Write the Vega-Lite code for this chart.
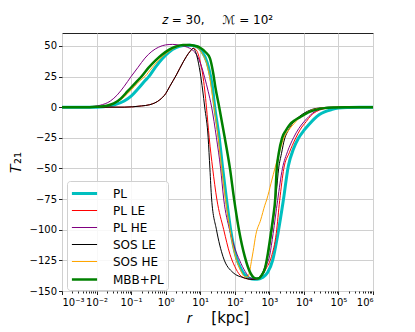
{
  "$schema": "https://vega.github.io/schema/vega-lite/v6.json",
  "width": 311,
  "height": 258,
  "autosize": "none",
  "padding": {"left": 62, "top": 33, "right": 42, "bottom": 41},
  "background": "white",
  "title": {"text": "𝑧 = 30,\u2003\u2002ℳ = 10²", "fontSize": 12, "fontWeight": "normal", "font": "DejaVu Sans", "offset": 6, "color": "black"},
  "config": {
    "view": {"stroke": "#222", "strokeWidth": 1},
    "axis": {"gridColor": "#d0d0d0", "gridWidth": 1, "domain": false, "tickColor": "#222", "tickSize": 3.5, "labelFont": "DejaVu Sans", "labelFontSize": 10, "labelColor": "black", "titleFont": "DejaVu Sans", "titleFontWeight": "normal", "titleColor": "black"},
    "legend": {"title": null, "orient": "none", "legendX": 5, "legendY": 148, "symbolType": "M-1.8,0H1.8", "symbolSize": 196, "symbolOffset": 5, "labelFontSize": 12, "labelFont": "DejaVu Sans", "labelColor": "black", "fillColor": "rgba(255,255,255,0.85)", "strokeColor": "#d0d0d0", "cornerRadius": 3, "padding": 4, "rowPadding": 3, "labelOffset": 20}
  },
  "data": {"values": [
    {"s":"PL","r":0.001,"T":0},{"s":"PL","r":0.01,"T":0},{"s":"PL","r":0.01585,"T":0.3},{"s":"PL","r":0.03162,"T":1.8},{"s":"PL","r":0.0631,"T":5},{"s":"PL","r":0.1,"T":9},{"s":"PL","r":0.1585,"T":15},{"s":"PL","r":0.2512,"T":21.5},{"s":"PL","r":0.3162,"T":24.5},{"s":"PL","r":0.5012,"T":32.5},{"s":"PL","r":0.7943,"T":39.5},{"s":"PL","r":1.259,"T":45},{"s":"PL","r":1.995,"T":48.5},{"s":"PL","r":3.162,"T":50.2},{"s":"PL","r":5.012,"T":50.6},{"s":"PL","r":7.943,"T":49.3},{"s":"PL","r":11.22,"T":45.5},{"s":"PL","r":15.85,"T":36.5},{"s":"PL","r":19.95,"T":25},{"s":"PL","r":22.39,"T":17},{"s":"PL","r":26.3,"T":0},{"s":"PL","r":35.48,"T":-25},{"s":"PL","r":44.67,"T":-50},{"s":"PL","r":57.54,"T":-75},{"s":"PL","r":75.86,"T":-100},{"s":"PL","r":112.2,"T":-123},{"s":"PL","r":158.5,"T":-133},{"s":"PL","r":223.9,"T":-138.5},{"s":"PL","r":316.2,"T":-140.3},{"s":"PL","r":446.7,"T":-140.5},{"s":"PL","r":631,"T":-139},{"s":"PL","r":891.3,"T":-135},{"s":"PL","r":1259,"T":-124.5},{"s":"PL","r":1778,"T":-103},{"s":"PL","r":2512,"T":-77},{"s":"PL","r":3548,"T":-48},{"s":"PL","r":5012,"T":-34},{"s":"PL","r":7079,"T":-25},{"s":"PL","r":10000,"T":-19},{"s":"PL","r":14130,"T":-14},{"s":"PL","r":19950,"T":-9.5},{"s":"PL","r":28180,"T":-6},{"s":"PL","r":39810,"T":-3.8},{"s":"PL","r":63100,"T":-2},{"s":"PL","r":100000,"T":-0.8},{"s":"PL","r":199500,"T":-0.2},{"s":"PL","r":398100,"T":0},{"s":"PL","r":1000000,"T":0},

    {"s":"PL LE","r":0.001,"T":0},{"s":"PL LE","r":0.0631,"T":0},{"s":"PL LE","r":0.1122,"T":0.3},{"s":"PL LE","r":0.1995,"T":1},{"s":"PL LE","r":0.3467,"T":2},{"s":"PL LE","r":0.6761,"T":6},{"s":"PL LE","r":1,"T":11},{"s":"PL LE","r":1.318,"T":17},{"s":"PL LE","r":2.042,"T":26.3},{"s":"PL LE","r":3.236,"T":37},{"s":"PL LE","r":5.012,"T":45.3},{"s":"PL LE","r":6.31,"T":48},{"s":"PL LE","r":7.943,"T":46},{"s":"PL LE","r":10,"T":37},{"s":"PL LE","r":11.75,"T":27},{"s":"PL LE","r":13.49,"T":14},{"s":"PL LE","r":15.14,"T":0},{"s":"PL LE","r":18.2,"T":-25},{"s":"PL LE","r":22.91,"T":-50},{"s":"PL LE","r":30.2,"T":-75},{"s":"PL LE","r":47.86,"T":-100},{"s":"PL LE","r":72.44,"T":-120},{"s":"PL LE","r":100,"T":-130},{"s":"PL LE","r":141.3,"T":-137},{"s":"PL LE","r":223.9,"T":-140},{"s":"PL LE","r":354.8,"T":-140.5},{"s":"PL LE","r":562.3,"T":-138.5},{"s":"PL LE","r":794.3,"T":-132},{"s":"PL LE","r":1148,"T":-122},{"s":"PL LE","r":1585,"T":-103},{"s":"PL LE","r":1995,"T":-76},{"s":"PL LE","r":2630,"T":-50},{"s":"PL LE","r":3802,"T":-37},{"s":"PL LE","r":5623,"T":-26},{"s":"PL LE","r":7943,"T":-18},{"s":"PL LE","r":11750,"T":-11.7},{"s":"PL LE","r":15850,"T":-7},{"s":"PL LE","r":22910,"T":-3.6},{"s":"PL LE","r":35480,"T":-1.5},{"s":"PL LE","r":63100,"T":-0.3},{"s":"PL LE","r":158500,"T":0},{"s":"PL LE","r":1000000,"T":0},

    {"s":"PL HE","r":0.001,"T":0},{"s":"PL HE","r":0.003981,"T":0},{"s":"PL HE","r":0.00631,"T":0.3},{"s":"PL HE","r":0.01259,"T":1.5},{"s":"PL HE","r":0.02512,"T":5},{"s":"PL HE","r":0.03981,"T":10},{"s":"PL HE","r":0.0631,"T":17},{"s":"PL HE","r":0.1,"T":25},{"s":"PL HE","r":0.1585,"T":32.5},{"s":"PL HE","r":0.2512,"T":40},{"s":"PL HE","r":0.3981,"T":45.5},{"s":"PL HE","r":0.631,"T":49},{"s":"PL HE","r":1,"T":50.8},{"s":"PL HE","r":1.585,"T":51.2},{"s":"PL HE","r":2.512,"T":50.6},{"s":"PL HE","r":3.548,"T":49.6},{"s":"PL HE","r":5.012,"T":48},{"s":"PL HE","r":7.762,"T":43},{"s":"PL HE","r":10.96,"T":33},{"s":"PL HE","r":13.49,"T":24},{"s":"PL HE","r":16.98,"T":13},{"s":"PL HE","r":21.38,"T":0},{"s":"PL HE","r":29.51,"T":-25},{"s":"PL HE","r":38.9,"T":-50},{"s":"PL HE","r":47.86,"T":-75},{"s":"PL HE","r":70.79,"T":-100},{"s":"PL HE","r":100,"T":-115},{"s":"PL HE","r":138,"T":-125},{"s":"PL HE","r":199.5,"T":-134},{"s":"PL HE","r":269.2,"T":-139},{"s":"PL HE","r":398.1,"T":-140.5},{"s":"PL HE","r":631,"T":-136.5},{"s":"PL HE","r":831.8,"T":-129},{"s":"PL HE","r":1023,"T":-121},{"s":"PL HE","r":1288,"T":-103},{"s":"PL HE","r":1738,"T":-76},{"s":"PL HE","r":2399,"T":-50},{"s":"PL HE","r":3388,"T":-36},{"s":"PL HE","r":5012,"T":-25},{"s":"PL HE","r":7079,"T":-17.5},{"s":"PL HE","r":10000,"T":-12},{"s":"PL HE","r":14130,"T":-7.5},{"s":"PL HE","r":22390,"T":-3},{"s":"PL HE","r":35480,"T":-1.2},{"s":"PL HE","r":63100,"T":-0.3},{"s":"PL HE","r":158500,"T":0},{"s":"PL HE","r":1000000,"T":0},

    {"s":"SOS LE","r":0.001,"T":0},{"s":"SOS LE","r":0.0631,"T":0},{"s":"SOS LE","r":0.1122,"T":0.3},{"s":"SOS LE","r":0.1995,"T":1},{"s":"SOS LE","r":0.3467,"T":2},{"s":"SOS LE","r":0.6761,"T":6},{"s":"SOS LE","r":1,"T":11},{"s":"SOS LE","r":1.318,"T":17},{"s":"SOS LE","r":2.042,"T":26.3},{"s":"SOS LE","r":3.236,"T":37},{"s":"SOS LE","r":5.012,"T":45.3},{"s":"SOS LE","r":6.31,"T":48},{"s":"SOS LE","r":7.943,"T":42},{"s":"SOS LE","r":10,"T":28},{"s":"SOS LE","r":11.75,"T":14},{"s":"SOS LE","r":13.49,"T":0},{"s":"SOS LE","r":16.98,"T":-25},{"s":"SOS LE","r":19.05,"T":-50},{"s":"SOS LE","r":21.38,"T":-75},{"s":"SOS LE","r":29.51,"T":-100},{"s":"SOS LE","r":45.71,"T":-122},{"s":"SOS LE","r":89.13,"T":-135},{"s":"SOS LE","r":173.8,"T":-139},{"s":"SOS LE","r":316.2,"T":-140.5},{"s":"SOS LE","r":501.2,"T":-139},{"s":"SOS LE","r":660.7,"T":-134},{"s":"SOS LE","r":891.3,"T":-122},{"s":"SOS LE","r":1230,"T":-97},{"s":"SOS LE","r":1585,"T":-70},{"s":"SOS LE","r":1862,"T":-50},{"s":"SOS LE","r":2239,"T":-38},{"s":"SOS LE","r":2754,"T":-26},{"s":"SOS LE","r":3548,"T":-19},{"s":"SOS LE","r":4786,"T":-13},{"s":"SOS LE","r":7079,"T":-8},{"s":"SOS LE","r":10000,"T":-5},{"s":"SOS LE","r":16600,"T":-2},{"s":"SOS LE","r":31620,"T":-0.5},{"s":"SOS LE","r":63100,"T":0},{"s":"SOS LE","r":1000000,"T":0},

    {"s":"SOS HE","r":0.001,"T":0},{"s":"SOS HE","r":0.007943,"T":0},{"s":"SOS HE","r":0.01259,"T":0.4},{"s":"SOS HE","r":0.02512,"T":2},{"s":"SOS HE","r":0.05012,"T":6},{"s":"SOS HE","r":0.07943,"T":11},{"s":"SOS HE","r":0.1259,"T":17},{"s":"SOS HE","r":0.1778,"T":21.5},{"s":"SOS HE","r":0.2512,"T":25},{"s":"SOS HE","r":0.3981,"T":32},{"s":"SOS HE","r":0.631,"T":38.5},{"s":"SOS HE","r":1,"T":43.5},{"s":"SOS HE","r":1.585,"T":47.5},{"s":"SOS HE","r":2.512,"T":49.8},{"s":"SOS HE","r":3.981,"T":50.7},{"s":"SOS HE","r":5.623,"T":50.5},{"s":"SOS HE","r":7.943,"T":48.8},{"s":"SOS HE","r":11.22,"T":44},{"s":"SOS HE","r":15.85,"T":34},{"s":"SOS HE","r":18.62,"T":25},{"s":"SOS HE","r":21.38,"T":14},{"s":"SOS HE","r":25.12,"T":0},{"s":"SOS HE","r":33.11,"T":-25},{"s":"SOS HE","r":41.69,"T":-50},{"s":"SOS HE","r":53.7,"T":-75},{"s":"SOS HE","r":72.44,"T":-100},{"s":"SOS HE","r":100,"T":-120},{"s":"SOS HE","r":141.3,"T":-132},{"s":"SOS HE","r":199.5,"T":-138.5},{"s":"SOS HE","r":239.9,"T":-138.5},{"s":"SOS HE","r":269.2,"T":-134},{"s":"SOS HE","r":302,"T":-126},{"s":"SOS HE","r":338.8,"T":-118},{"s":"SOS HE","r":407.4,"T":-104},{"s":"SOS HE","r":562.3,"T":-92},{"s":"SOS HE","r":741.3,"T":-80},{"s":"SOS HE","r":851.1,"T":-75},{"s":"SOS HE","r":1122,"T":-62},{"s":"SOS HE","r":1514,"T":-48},{"s":"SOS HE","r":2138,"T":-33},{"s":"SOS HE","r":2630,"T":-25},{"s":"SOS HE","r":3802,"T":-18},{"s":"SOS HE","r":5370,"T":-13},{"s":"SOS HE","r":7586,"T":-8.5},{"s":"SOS HE","r":11220,"T":-5},{"s":"SOS HE","r":16600,"T":-2.5},{"s":"SOS HE","r":25120,"T":-1.2},{"s":"SOS HE","r":39810,"T":-0.5},{"s":"SOS HE","r":100000,"T":0},{"s":"SOS HE","r":1000000,"T":0},

    {"s":"MBB+PL","r":0.001,"T":0},{"s":"MBB+PL","r":0.00631,"T":0},{"s":"MBB+PL","r":0.01,"T":0.3},{"s":"MBB+PL","r":0.01995,"T":1.2},{"s":"MBB+PL","r":0.03162,"T":3},{"s":"MBB+PL","r":0.05012,"T":7},{"s":"MBB+PL","r":0.07943,"T":13},{"s":"MBB+PL","r":0.1259,"T":19},{"s":"MBB+PL","r":0.1995,"T":25},{"s":"MBB+PL","r":0.3162,"T":32},{"s":"MBB+PL","r":0.5012,"T":38},{"s":"MBB+PL","r":0.7943,"T":43},{"s":"MBB+PL","r":1.259,"T":47},{"s":"MBB+PL","r":1.995,"T":49.5},{"s":"MBB+PL","r":3.162,"T":50.8},{"s":"MBB+PL","r":5.012,"T":50.8},{"s":"MBB+PL","r":7.079,"T":50},{"s":"MBB+PL","r":10,"T":48.5},{"s":"MBB+PL","r":14.13,"T":45},{"s":"MBB+PL","r":19.05,"T":40},{"s":"MBB+PL","r":23.99,"T":27},{"s":"MBB+PL","r":27.54,"T":16},{"s":"MBB+PL","r":35.48,"T":0},{"s":"MBB+PL","r":51.29,"T":-25},{"s":"MBB+PL","r":72.44,"T":-50},{"s":"MBB+PL","r":95.5,"T":-75},{"s":"MBB+PL","r":131.8,"T":-100},{"s":"MBB+PL","r":195,"T":-122},{"s":"MBB+PL","r":269.2,"T":-134},{"s":"MBB+PL","r":380.2,"T":-139.5},{"s":"MBB+PL","r":478.6,"T":-139.8},{"s":"MBB+PL","r":602.6,"T":-137},{"s":"MBB+PL","r":741.3,"T":-132},{"s":"MBB+PL","r":912,"T":-119},{"s":"MBB+PL","r":1148,"T":-100},{"s":"MBB+PL","r":1318,"T":-88},{"s":"MBB+PL","r":1479,"T":-75},{"s":"MBB+PL","r":1622,"T":-52},{"s":"MBB+PL","r":1862,"T":-38},{"s":"MBB+PL","r":2344,"T":-25},{"s":"MBB+PL","r":3020,"T":-19},{"s":"MBB+PL","r":3981,"T":-14},{"s":"MBB+PL","r":5623,"T":-10.5},{"s":"MBB+PL","r":7943,"T":-8},{"s":"MBB+PL","r":11220,"T":-5.5},{"s":"MBB+PL","r":15850,"T":-3.5},{"s":"MBB+PL","r":25120,"T":-1.8},{"s":"MBB+PL","r":39810,"T":-0.8},{"s":"MBB+PL","r":79430,"T":-0.2},{"s":"MBB+PL","r":158500,"T":0},{"s":"MBB+PL","r":1000000,"T":0}
  ]},
  "mark": {"type": "line", "interpolate": "monotone", "clip": true},
  "encoding": {
    "x": {"field": "r", "type": "quantitative",
      "scale": {"type": "log", "domain": [0.001, 1000000], "nice": false},
      "axis": {"values": [0.001,0.002,0.003,0.004,0.005,0.006,0.007,0.008,0.009,0.01,0.02,0.03,0.04,0.05,0.06,0.07,0.08,0.09,0.1,0.2,0.3,0.4,0.5,0.6,0.7,0.8,0.9,1,2,3,4,5,6,7,8,9,10,20,30,40,50,60,70,80,90,100,200,300,400,500,600,700,800,900,1000,2000,3000,4000,5000,6000,7000,8000,9000,10000,20000,30000,40000,50000,60000,70000,80000,90000,100000,200000,300000,400000,500000,600000,700000,800000,900000,1000000],
        "labelExpr": "abs(log(datum.value)/LN10 - round(log(datum.value)/LN10)) < 0.01 ? ['10⁻³','10⁻²','10⁻¹','10⁰','10¹','10²','10³','10⁴','10⁵','10⁶'][round(log(datum.value)/LN10)+3] : ''",
        "labelOverlap": false,
        "tickSize": {"condition": {"test": "abs(log(datum.value)/LN10 - round(log(datum.value)/LN10)) < 0.01", "value": 3.5}, "value": 2},
        "gridOpacity": {"condition": {"test": "abs(log(datum.value)/LN10 - round(log(datum.value)/LN10)) < 0.01", "value": 1}, "value": 0},
        "title": "𝑟\u2003 [kpc]", "titleFontSize": 15, "titlePadding": 3, "labelPadding": 3}},
    "y": {"field": "T", "type": "quantitative",
      "scale": {"domain": [-150, 60.5], "nice": false, "zero": false},
      "axis": {"values": [-150, -125, -100, -75, -50, -25, 0, 25, 50], "labelExpr": "replace(datum.label, '-', '−')",
        "title": "𝑇₂₁", "titleFontSize": 15, "titlePadding": 6}},
    "color": {"field": "s", "type": "nominal",
      "scale": {"domain": ["PL", "PL LE", "PL HE", "SOS LE", "SOS HE", "MBB+PL"], "range": ["#00bfbf", "#ff0000", "#800080", "#000000", "#ffa500", "#008000"]}},
    "strokeWidth": {"field": "s", "type": "nominal",
      "scale": {"type": "ordinal", "domain": ["PL", "PL LE", "PL HE", "SOS LE", "SOS HE", "MBB+PL"], "range": [3, 1, 1, 1, 1, 2.5]}}
  }
}
